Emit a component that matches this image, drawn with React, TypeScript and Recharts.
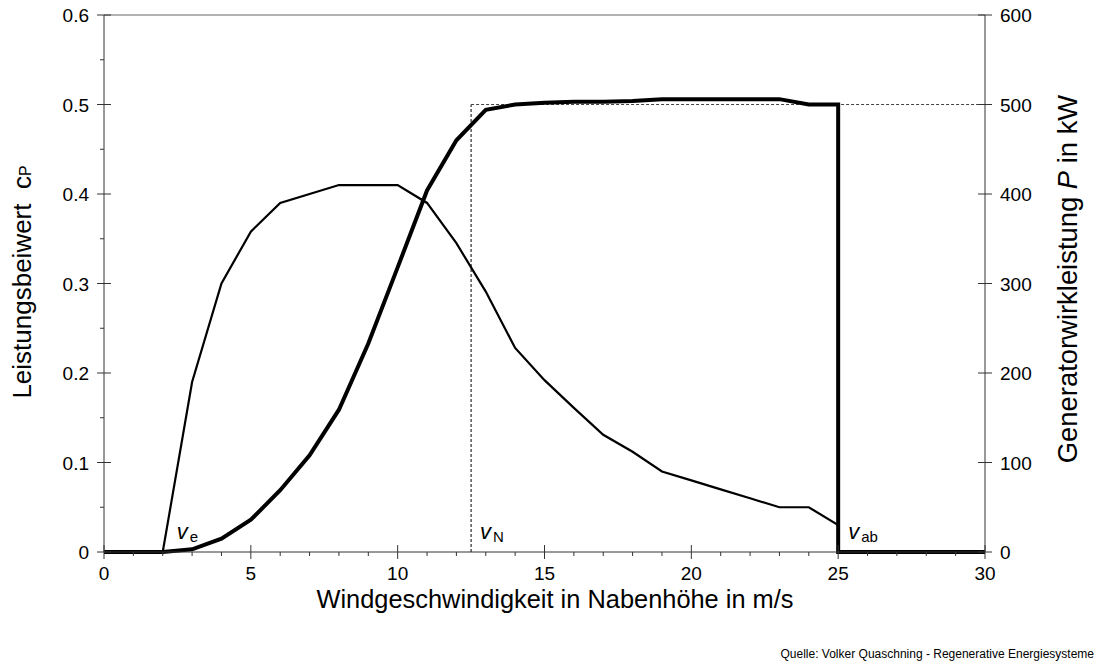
import React from 'react'
import { LineChart, Line, XAxis, YAxis, ReferenceLine, ReferenceDot } from 'recharts'

// wind speed in m/s (25 appears twice: the cut-out drop)
const windSpeed = [0, 1, 2, 3, 4, 5, 6, 7, 8, 9, 10, 11, 12, 13, 14, 15, 16, 17, 18, 19, 20, 21, 22, 23, 24, 25, 25, 26, 27, 28, 29, 30]
const cpValues = [0, 0, 0, 0.19, 0.3, 0.358, 0.39, 0.4, 0.41, 0.41, 0.41, 0.39, 0.345, 0.291, 0.228, 0.192, 0.161, 0.131, 0.112, 0.09, 0.08, 0.07, 0.06, 0.05, 0.05, 0.03, 0, 0, 0, 0, 0, 0]
const powerValues = [0, 0, 0, 3, 15, 36, 69, 108, 159, 233, 318, 404, 460, 494, 500, 502, 503, 503, 504, 506, 506, 506, 506, 506, 500, 500, 0, 0, 0, 0, 0, 0]

const xTicks = [0, 1, 2, 3, 4, 5, 6, 7, 8, 9, 10, 11, 12, 13, 14, 15, 16, 17, 18, 19, 20, 21, 22, 23, 24, 25, 26, 27, 28, 29, 30]
const cpTicks = [0, 0.05, 0.1, 0.15, 0.2, 0.25, 0.3, 0.35, 0.4, 0.45, 0.5, 0.55, 0.6]
const powerTicks = [0, 100, 200, 300, 400, 500, 600]

const ratedSpeed = 12.5 // v_N
const ratedPower = 500
const cutInSpeed = 2 // v_e
const cutOutSpeed = 25 // v_ab

const data = windSpeed.map((v, i) => ({ v, cp: cpValues[i], p: powerValues[i] }))

const FONT = '"Liberation Sans", Arial, sans-serif'
const AXIS = '#333'

function XTick({ x, y, payload }: any) {
  const v = payload.value
  const major = v % 5 === 0
  return (
    <g>
      <line x1={x} x2={x} y1={major ? y - 7 : y} y2={major ? y + 7 : y + 4} stroke={AXIS} />
      {major && (
        <text x={x} y={y + 28} textAnchor="middle" fontSize={19} fontFamily={FONT} fill="#000">{v}</text>
      )}
    </g>
  )
}

function CpTick({ x, y, payload }: any) {
  const v = payload.value
  const major = Math.round(v * 100) % 10 === 0
  return (
    <g>
      <line x1={major ? x - 7 : x - 4} x2={major ? x + 7 : x} y1={y} y2={y} stroke={AXIS} />
      {major && (
        <text x={x - 15} y={y + 7} textAnchor="end" fontSize={19} fontFamily={FONT} fill="#000">{v === 0 ? '0' : v.toFixed(1)}</text>
      )}
    </g>
  )
}

function PowerTick({ x, y, payload }: any) {
  return (
    <g>
      <line x1={x - 7} x2={x + 7} y1={y} y2={y} stroke={AXIS} />
      <text x={x + 15} y={y + 7} textAnchor="start" fontSize={19} fontFamily={FONT} fill="#000">{payload.value}</text>
    </g>
  )
}

function speedLabel(sub: string, dx: number) {
  return (p: any) => (
    <text x={p.cx + dx} y={p.cy - 13} fontFamily={FONT} fill="#000">
      <tspan fontSize={22} fontStyle="italic">v</tspan>
      <tspan fontSize={15} dx={2} dy={3}>{sub}</tspan>
    </text>
  )
}

export default function App() {
  return (
    <div style={{ position: 'absolute', left: 0, top: 0, width: 1098, height: 662, background: '#fff', fontFamily: FONT }}>
      <LineChart width={1098} height={662} data={data} margin={{ top: 15, right: 0, bottom: 0, left: 0 }}>
        <XAxis
          dataKey="v" type="number" domain={[0, 30]} ticks={xTicks} interval={0}
          tickLine={false} tickSize={0} tickMargin={0} tick={<XTick />}
          axisLine={{ stroke: AXIS }} height={110}
        />
        <YAxis
          yAxisId="left" type="number" domain={[0, 0.6]} ticks={cpTicks} interval={0}
          tickLine={false} tickSize={0} tickMargin={0} tick={<CpTick />}
          axisLine={{ stroke: AXIS }} width={104}
        />
        <YAxis
          yAxisId="right" orientation="right" type="number" domain={[0, 600]} ticks={powerTicks} interval={0}
          tickLine={false} tickSize={0} tickMargin={0} tick={<PowerTick />}
          axisLine={{ stroke: AXIS }} width={113}
        />
        <ReferenceLine yAxisId="left" y={0.6} stroke="#666" />
        <ReferenceLine
          yAxisId="right" stroke="#000" strokeDasharray="3 2"
          segment={[{ x: ratedSpeed, y: 0 }, { x: ratedSpeed, y: ratedPower }]}
        />
        <ReferenceLine
          yAxisId="right" stroke="#444" strokeDasharray="3 2"
          segment={[{ x: ratedSpeed, y: ratedPower }, { x: 30, y: ratedPower }]}
        />
        <Line yAxisId="left" dataKey="cp" type="linear" stroke="#000" strokeWidth={2.2} dot={false} isAnimationActive={false} />
        <Line yAxisId="right" dataKey="p" type="linear" stroke="#000" strokeWidth={4} dot={false} isAnimationActive={false} />
        <ReferenceDot yAxisId="left" x={cutInSpeed} y={0} r={0} shape={speedLabel('e', 14)} />
        <ReferenceDot yAxisId="left" x={ratedSpeed} y={0} r={0} shape={speedLabel('N', 9)} />
        <ReferenceDot yAxisId="left" x={cutOutSpeed} y={0} r={0} shape={speedLabel('ab', 10)} />
      </LineChart>

      <div style={{ position: 'absolute', left: 0, top: 585, width: 1098, textAlign: 'center', paddingLeft: 12, boxSizing: 'border-box', fontSize: 25.4, color: '#000', whiteSpace: 'nowrap' }}>
        Windgeschwindigkeit in Nabenhöhe in m/s
      </div>
      <div style={{ position: 'absolute', left: 22, top: 282, transform: 'translate(-50%, -50%) rotate(-90deg)', fontSize: 26, color: '#000', whiteSpace: 'nowrap' }}>
        Leistungsbeiwert&nbsp;&nbsp;c<span style={{ fontSize: 16 }}>P</span>
      </div>
      <div style={{ position: 'absolute', left: 1068, top: 279, transform: 'translate(-50%, -50%) rotate(-90deg)', fontSize: 27.4, color: '#000', whiteSpace: 'nowrap' }}>
        Generatorwirkleistung <i>P</i> in kW
      </div>
      <div style={{ position: 'absolute', right: 4, top: 647, fontFamily: '"Liberation Sans Narrow", "Liberation Sans", Arial, sans-serif', fontSize: 12, color: '#000', whiteSpace: 'nowrap' }}>
        Quelle: Volker Quaschning - Regenerative Energiesysteme
      </div>
    </div>
  )
}
